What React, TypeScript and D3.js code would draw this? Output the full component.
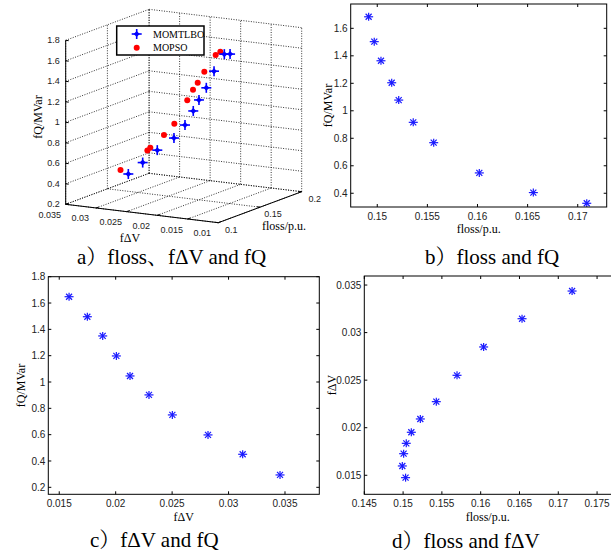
import * as d3 from "d3";
import React from "react";

// ---- data ----
// 3D panel (a): fΔV, floss, fQ
const momDv3 = [0.03444, 0.03135, 0.02822, 0.02486, 0.02278, 0.02122, 0.02019, 0.01885, 0.01749, 0.01572, 0.01496];
const momLoss3 = [0.171, 0.1656, 0.1602, 0.1556, 0.1536, 0.1521, 0.1514, 0.1504, 0.1497, 0.1491, 0.1504];
const momQ3 = [0.285, 0.435, 0.595, 0.751, 0.899, 1.052, 1.169, 1.3, 1.474, 1.655, 1.657];

const psoDv3 = [0.0349, 0.02982, 0.0292, 0.02655, 0.02458, 0.02219, 0.02118, 0.02034, 0.01919, 0.01726, 0.0165];
const psoLoss3 = [0.165, 0.16, 0.159, 0.156, 0.154, 0.152, 0.1515, 0.151, 0.1505, 0.15, 0.15];
const psoQ3 = [0.339, 0.58, 0.614, 0.767, 0.898, 1.149, 1.26, 1.336, 1.453, 1.632, 1.67];

// panel b: floss vs fQ
const bLoss = [0.14914, 0.1497, 0.15037, 0.15144, 0.15214, 0.15359, 0.15563, 0.16018, 0.16557, 0.1709];
const bQ = [1.684, 1.503, 1.364, 1.204, 1.078, 0.916, 0.768, 0.548, 0.405, 0.327];

// panel c: fΔV vs fQ
const cDv = [0.01587, 0.01749, 0.01885, 0.02006, 0.02127, 0.02295, 0.02502, 0.02818, 0.03125, 0.03456];
const cQ = [1.648, 1.496, 1.35, 1.198, 1.046, 0.902, 0.75, 0.598, 0.451, 0.294];

// panel d: floss vs fΔV
const dLoss = [0.17178, 0.16533, 0.16038, 0.15695, 0.15428, 0.15222, 0.15106, 0.15041, 0.15007, 0.1499, 0.15032];
const dDv = [0.03437, 0.03146, 0.02849, 0.02551, 0.02274, 0.02092, 0.01952, 0.01836, 0.01727, 0.01598, 0.01475];

// ticks
const dvTicks3 = [0.035, 0.03, 0.025, 0.02, 0.015, 0.01];
const lossTicks3 = [0.1, 0.15, 0.2];
const qTicks3 = [0.2, 0.4, 0.6, 0.8, 1, 1.2, 1.4, 1.6, 1.8];
const bXTicks = [0.15, 0.155, 0.16, 0.165, 0.17];
const bYTicks = [0.4, 0.6, 0.8, 1, 1.2, 1.4, 1.6];
const cXTicks = [0.015, 0.02, 0.025, 0.03, 0.035];
const cYTicks = [0.2, 0.4, 0.6, 0.8, 1, 1.2, 1.4, 1.6, 1.8];
const dXTicks = [0.145, 0.15, 0.155, 0.16, 0.165, 0.17, 0.175];
const dYTicks = [0.015, 0.02, 0.025, 0.03, 0.035];

const legendNames = ["MOMTLBO", "MOPSO"];

const SANS = "'Liberation Sans', Arial, sans-serif";
const SERIF = "'Liberation Serif', 'Times New Roman', 'Noto Serif CJK SC', 'Noto Sans CJK SC', serif";
const BLUE = "#0000ff";
const RED = "#ff0000";

const fmt = (v: number) => String(+v.toFixed(4));

const Asterisk = ({ x, y }: { x: number; y: number }) => (
  <g transform={`translate(${x},${y})`} stroke={BLUE} strokeWidth={1.2} opacity={0.9}>
    <line x1={-4.5} x2={4.5} y1={0} y2={0} />
    <line x1={0} x2={0} y1={-4} y2={4} />
    <line x1={-3} x2={3} y1={-3} y2={3} />
    <line x1={-3} x2={3} y1={3} y2={-3} />
  </g>
);

const Star4 = ({ x, y }: { x: number; y: number }) => (
  <g transform={`translate(${x},${y})`} fill={BLUE} stroke={BLUE}>
    <line x1={-5} x2={5} y1={0} y2={0} strokeWidth={1.6} />
    <line x1={0} x2={0} y1={-5} y2={5} strokeWidth={1.6} />
    <path d="M0,-3L3,0L0,3L-3,0Z" strokeWidth={0} />
  </g>
);

type PanelProps = {
  x0: number; x1: number; y0: number; y1: number;
  xDomain: [number, number]; yDomain: [number, number];
  xTicks: number[]; yTicks: number[];
  xs: number[]; ys: number[];
  xLabel: string; yLabel: string;
  yLabelX: number; xLabelY: number;
  clipId: string;
};

const Panel = (p: PanelProps) => {
  const x = d3.scaleLinear(p.xDomain, [p.x0, p.x1]);
  const y = d3.scaleLinear(p.yDomain, [p.y1, p.y0]);
  const tl = 3;
  return (
    <g>
      <clipPath id={p.clipId}>
        <rect x={p.x0} y={p.y0} width={p.x1 - p.x0} height={p.y1 - p.y0} />
      </clipPath>
      <g clipPath={`url(#${p.clipId})`}>
        {p.xs.map((v, i) => (
          <Asterisk key={i} x={x(v)} y={y(p.ys[i])} />
        ))}
      </g>
      <rect x={p.x0} y={p.y0} width={p.x1 - p.x0} height={p.y1 - p.y0} fill="none" stroke="#000" strokeWidth={1} />
      {p.xTicks.map((t) => (
        <g key={"x" + t}>
          <line x1={x(t)} x2={x(t)} y1={p.y1} y2={p.y1 - tl} stroke="#000" />
          <line x1={x(t)} x2={x(t)} y1={p.y0} y2={p.y0 + tl} stroke="#000" />
          <text x={x(t)} y={p.y1 + 12.5} textAnchor="middle" fontFamily={SANS} fontSize={10} fill="#222">
            {fmt(t)}
          </text>
        </g>
      ))}
      {p.yTicks.map((t) => (
        <g key={"y" + t}>
          <line x1={p.x0} x2={p.x0 + tl} y1={y(t)} y2={y(t)} stroke="#000" />
          <line x1={p.x1} x2={p.x1 - tl} y1={y(t)} y2={y(t)} stroke="#000" />
          <text x={p.x0 - 3} y={y(t) + 3.6} textAnchor="end" fontFamily={SANS} fontSize={10} fill="#222">
            {fmt(t)}
          </text>
        </g>
      ))}
      <text x={(p.x0 + Math.min(p.x1, 611)) / 2} y={p.xLabelY} textAnchor="middle" fontFamily={SERIF} fontSize={12}>
        {p.xLabel}
      </text>
      <text
        transform={`translate(${p.yLabelX},${(p.y0 + p.y1) / 2}) rotate(-90)`}
        textAnchor="middle"
        fontFamily={SERIF}
        fontSize={12}
        dy="0.35em"
      >
        {p.yLabel}
      </text>
    </g>
  );
};

// ---- 3D panel ----
const origin = [65.7, 204.3];
const vDv = [152.6, 18.4];
const vLoss = [83.4, -31];
const vQ = [0, -164];
const sDv = d3.scaleLinear([0.035, 0.01], [0, 1]);
const sLoss = d3.scaleLinear([0.1, 0.2], [0, 1]);
const sQ = d3.scaleLinear([0.2, 1.8], [0, 1]);
const proj = (dv: number, loss: number, q: number): [number, number] => {
  const a = sDv(dv), b = sLoss(loss), c = sQ(q);
  return [
    origin[0] + a * vDv[0] + b * vLoss[0] + c * vQ[0],
    origin[1] + a * vDv[1] + b * vLoss[1] + c * vQ[1],
  ];
};

const Panel3D = () => {
  const dvMin = 0.01, dvMax = 0.035, lMin = 0.1, lMax = 0.2, qMin = 0.2, qMax = 1.8;
  const grid: [number, number][][] = [];
  // floor
  dvTicks3.forEach((d) => grid.push([proj(d, lMin, qMin), proj(d, lMax, qMin)]));
  lossTicks3.forEach((l) => grid.push([proj(dvMax, l, qMin), proj(dvMin, l, qMin)]));
  // left wall dv = 0.035
  qTicks3.forEach((q) => grid.push([proj(dvMax, lMin, q), proj(dvMax, lMax, q)]));
  lossTicks3.forEach((l) => grid.push([proj(dvMax, l, qMin), proj(dvMax, l, qMax)]));
  // back wall loss = 0.2
  qTicks3.forEach((q) => grid.push([proj(dvMax, lMax, q), proj(dvMin, lMax, q)]));
  dvTicks3.forEach((d) => grid.push([proj(d, lMax, qMin), proj(d, lMax, qMax)]));
  const line = d3.line();
  const o = proj(dvMax, lMin, qMin);
  const front = proj(dvMin, lMin, qMin);
  const right = proj(dvMin, lMax, qMin);
  const zTop = proj(dvMax, lMin, qMax);
  return (
    <g>
      {grid.map((seg, i) => (
        <path key={i} d={line(seg) || ""} stroke="#000" strokeWidth={0.8} strokeDasharray="1,1.5" fill="none" />
      ))}
      <path d={line([zTop, o, front, right]) || ""} stroke="#000" strokeWidth={1} fill="none" />
      {qTicks3.map((q) => {
        const [px, py] = proj(dvMax, lMin, q);
        return (
          <g key={"q" + q}>
            <line x1={px} x2={px + 3} y1={py} y2={py + 0.4} stroke="#000" />
            <text x={px - 6} y={py + 3} textAnchor="end" fontFamily={SANS} fontSize={9} fill="#222">
              {fmt(q)}
            </text>
          </g>
        );
      })}
      {dvTicks3.map((d) => {
        const [px, py] = proj(d, lMin, qMin);
        return (
          <g key={"d" + d}>
            <line x1={px} x2={px + 2.5} y1={py} y2={py - 1} stroke="#000" />
            <text x={px - 16} y={py + 13.5} textAnchor="middle" fontFamily={SANS} fontSize={9} fill="#222">
              {fmt(d)}
            </text>
          </g>
        );
      })}
      {lossTicks3.map((l) => {
        const [px, py] = proj(dvMin, l, qMin);
        return (
          <g key={"l" + l}>
            <line x1={px} x2={px - 3} y1={py} y2={py - 0.4} stroke="#000" />
            <text x={px + 13} y={py + 10} textAnchor="middle" fontFamily={SANS} fontSize={9} fill="#222">
              {fmt(l)}
            </text>
          </g>
        );
      })}
      {psoDv3.map((d, i) => {
        const [px, py] = proj(d, psoLoss3[i], psoQ3[i]);
        return <circle key={"p" + i} cx={px} cy={py} r={3} fill={RED} />;
      })}
      {momDv3.map((d, i) => {
        const [px, py] = proj(d, momLoss3[i], momQ3[i]);
        return <Star4 key={"m" + i} x={px} y={py} />;
      })}
      {/* legend */}
      <rect x={116.7} y={26} width={87.3} height={29} fill="#fff" stroke="#000" strokeWidth={1.5} />
      <Star4 x={136.7} y={34} />
      <circle cx={136.7} cy={47.7} r={3} fill={RED} />
      <text x={153} y={37.5} fontFamily={SERIF} fontSize={10}>{legendNames[0]}</text>
      <text x={153} y={51.2} fontFamily={SERIF} fontSize={10}>{legendNames[1]}</text>
      {/* axis labels */}
      <text transform="translate(38,117) rotate(-90)" textAnchor="middle" dy="0.35em" fontFamily={SERIF} fontSize={12}>
        fQ/MVar
      </text>
      <text x={130} y={242} textAnchor="middle" fontFamily={SERIF} fontSize={12}>fΔV</text>
      <text x={284} y={230} textAnchor="middle" fontFamily={SERIF} fontSize={12}>floss/p.u.</text>
    </g>
  );
};

const Caption = ({ x, y, text }: { x: number; y: number; text: string }) => (
  <text x={x} y={y} fontFamily={SERIF} fontSize={21} fill="#000">
    {text}
  </text>
);

export default function App() {
  return (
    <svg
      width={611}
      height={553}
      style={{ position: "absolute", left: 0, top: 0, background: "#fff", display: "block" }}
    >
      <rect width={611} height={553} fill="#fff" />
      <Panel3D />
      <Panel
        x0={350.7} x1={606.7} y0={4} y1={207}
        xDomain={[0.14735, 0.17289]} yDomain={[0.3, 1.777]}
        xTicks={bXTicks} yTicks={bYTicks}
        xs={bLoss} ys={bQ}
        xLabel="floss/p.u." yLabel="fQ/MVar"
        yLabelX={328} xLabelY={233}
        clipId="clipB"
      />
      <Panel
        x0={48.3} x1={319.3} y0={276.7} y1={494.3}
        xDomain={[0.01403, 0.03804]} yDomain={[0.147, 1.8]}
        xTicks={cXTicks} yTicks={cYTicks}
        xs={cDv} ys={cQ}
        xLabel="fΔV" yLabel="fQ/MVar"
        yLabelX={20.7} xLabelY={521}
        clipId="clipC"
      />
      <Panel
        x0={364.3} x1={616} y0={276} y1={494.3}
        xDomain={[0.145, 0.17744]} yDomain={[0.013, 0.03595]}
        xTicks={dXTicks} yTicks={dYTicks}
        xs={dLoss} ys={dDv}
        xLabel="floss/p.u." yLabel="fΔV"
        yLabelX={331.7} xLabelY={521}
        clipId="clipD"
      />
      <Caption x={77} y={264} text="a）floss、fΔV and fQ" />
      <Caption x={425} y={264} text="b）floss and fQ" />
      <Caption x={90} y={547} text="c）fΔV and fQ" />
      <Caption x={392} y={548} text="d）floss and fΔV" />
    </svg>
  );
}
